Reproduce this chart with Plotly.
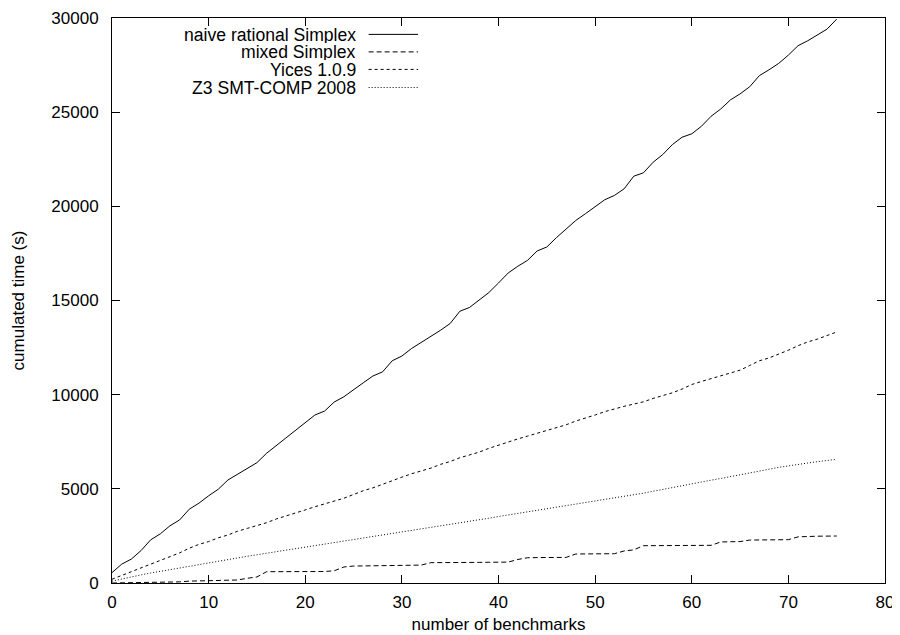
import plotly.graph_objects as go

benchmarks = list(range(0, 76))

naive_rational = [550, 1000, 1270, 1720, 2290, 2610, 3040, 3350, 3920, 4240,
                  4630, 4980, 5470, 5780, 6090, 6390, 6890, 7290, 7680, 8090,
                  8480, 8920, 9130, 9610, 9890, 10240, 10630, 10990, 11210, 11800,
                  12050, 12450, 12770, 13100, 13420, 13780, 14430, 14630, 15050, 15420,
                  15930, 16460, 16820, 17130, 17630, 17840, 18340, 18780, 19250, 19610,
                  19960, 20350, 20580, 20930, 21600, 21780, 22340, 22750, 23280, 23670,
                  23850, 24250, 24780, 25170, 25650, 25970, 26350, 26940, 27250, 27590,
                  28030, 28530, 28790, 29110, 29410, 29940]

mixed = [0, 5, 10, 15, 20, 30, 40, 60, 100, 110,
         120, 125, 140, 160, 250, 320, 600, 600, 600, 605,
         605, 610, 610, 650, 850, 900, 910, 920, 920, 925,
         925, 930, 950, 1080, 1090, 1090, 1090, 1095, 1095, 1100,
         1100, 1110, 1250, 1340, 1350, 1350, 1355, 1360, 1540, 1540,
         1545, 1550, 1555, 1700, 1760, 1980, 1985, 1990, 1990, 1995,
         1995, 2000, 2000, 2180, 2190, 2200, 2280, 2285, 2290, 2295,
         2300, 2450, 2480, 2485, 2490, 2495]

yices = [200, 400, 600, 800, 1000, 1200, 1400, 1600, 1850, 2050,
         2200, 2400, 2550, 2750, 2900, 3050, 3200, 3400, 3550, 3700,
         3880, 4050, 4200, 4350, 4500, 4700, 4900, 5050, 5250, 5450,
         5620, 5800, 5950, 6100, 6300, 6450, 6650, 6800, 6950, 7150,
         7330, 7480, 7650, 7800, 7950, 8100, 8250, 8400, 8600, 8750,
         8920, 9100, 9250, 9380, 9500, 9620, 9800, 9950, 10100, 10300,
         10540, 10700, 10850, 11000, 11150, 11300, 11550, 11800, 11950, 12150,
         12360, 12600, 12800, 12950, 13150, 13330]

z3 = [100, 220, 330, 430, 530, 620, 720, 820, 900, 990,
      1060, 1150, 1240, 1330, 1420, 1500, 1580, 1660, 1740, 1820,
      1900, 1980, 2060, 2140, 2210, 2290, 2370, 2450, 2530, 2610,
      2680, 2770, 2850, 2940, 3020, 3100, 3190, 3270, 3350, 3440,
      3530, 3610, 3690, 3770, 3850, 3940, 4020, 4110, 4190, 4270,
      4360, 4440, 4520, 4600, 4680, 4770, 4870, 4970, 5080, 5190,
      5300, 5380, 5460, 5550, 5640, 5740, 5850, 5950, 6040, 6140,
      6230, 6300, 6370, 6440, 6510, 6570]

series_names = ["naive rational Simplex", "mixed Simplex", "Yices 1.0.9", "Z3 SMT-COMP 2008"]
series_values = [naive_rational, mixed, yices, z3]
dashes = ["solid", "5px,3px", "3px,3px", "1px,2px"]

x_ticks = [0, 10, 20, 30, 40, 50, 60, 70, 80]
y_ticks = [0, 5000, 10000, 15000, 20000, 25000, 30000]

FONT = "Liberation Sans, Arial, sans-serif"

fig = go.Figure()
for name, vals, dash in zip(series_names, series_values, dashes):
    fig.add_trace(go.Scatter(x=benchmarks, y=vals, mode="lines", name=name,
                             line=dict(color="black", width=1, dash=dash),
                             showlegend=False))

# manual gnuplot-style legend (text right-aligned, sample on the right)
leg_y = [0.971, 0.940, 0.909, 0.877]
for name, dash, yy in zip(series_names, dashes, leg_y):
    fig.add_annotation(x=0.317, y=yy, xref="paper", yref="paper", text=name,
                       showarrow=False, xanchor="right", yanchor="middle",
                       height=17, borderpad=0,
                       font=dict(family=FONT, size=17.6, color="black"))
    fig.add_shape(type="line", xref="paper", yref="paper", x0=0.332, x1=0.396,
                  y0=yy, y1=yy, line=dict(color="black", width=1, dash=dash))

axis_common = dict(showline=True, linecolor="black", linewidth=1, mirror="ticks",
                   ticks="inside", ticklen=8, tickcolor="black", tickwidth=1,
                   showgrid=False, zeroline=False,
                   tickfont=dict(family=FONT, size=17, color="black"))

fig.update_xaxes(range=[0, 80], tickvals=x_ticks, ticktext=[str(v) for v in x_ticks],
                 title=dict(text="number of benchmarks", standoff=6,
                            font=dict(family=FONT, size=17, color="black")),
                 ticklabelstandoff=4, **axis_common)
fig.update_yaxes(range=[0, 30000], tickvals=y_ticks, ticktext=[str(v) for v in y_ticks],
                 title=dict(text="cumulated time (s)", standoff=22,
                            font=dict(family=FONT, size=17, color="black")),
                 ticklabelstandoff=9, **axis_common)

# page body has an 8px default margin, so the figure is sized to compensate
fig.update_layout(width=892, height=627,
                  margin=dict(l=104, r=15, t=10, b=52, autoexpand=False),
                  plot_bgcolor="white", paper_bgcolor="white",
                  font=dict(family=FONT, size=17, color="black"))

fig.write_html("out.html")
